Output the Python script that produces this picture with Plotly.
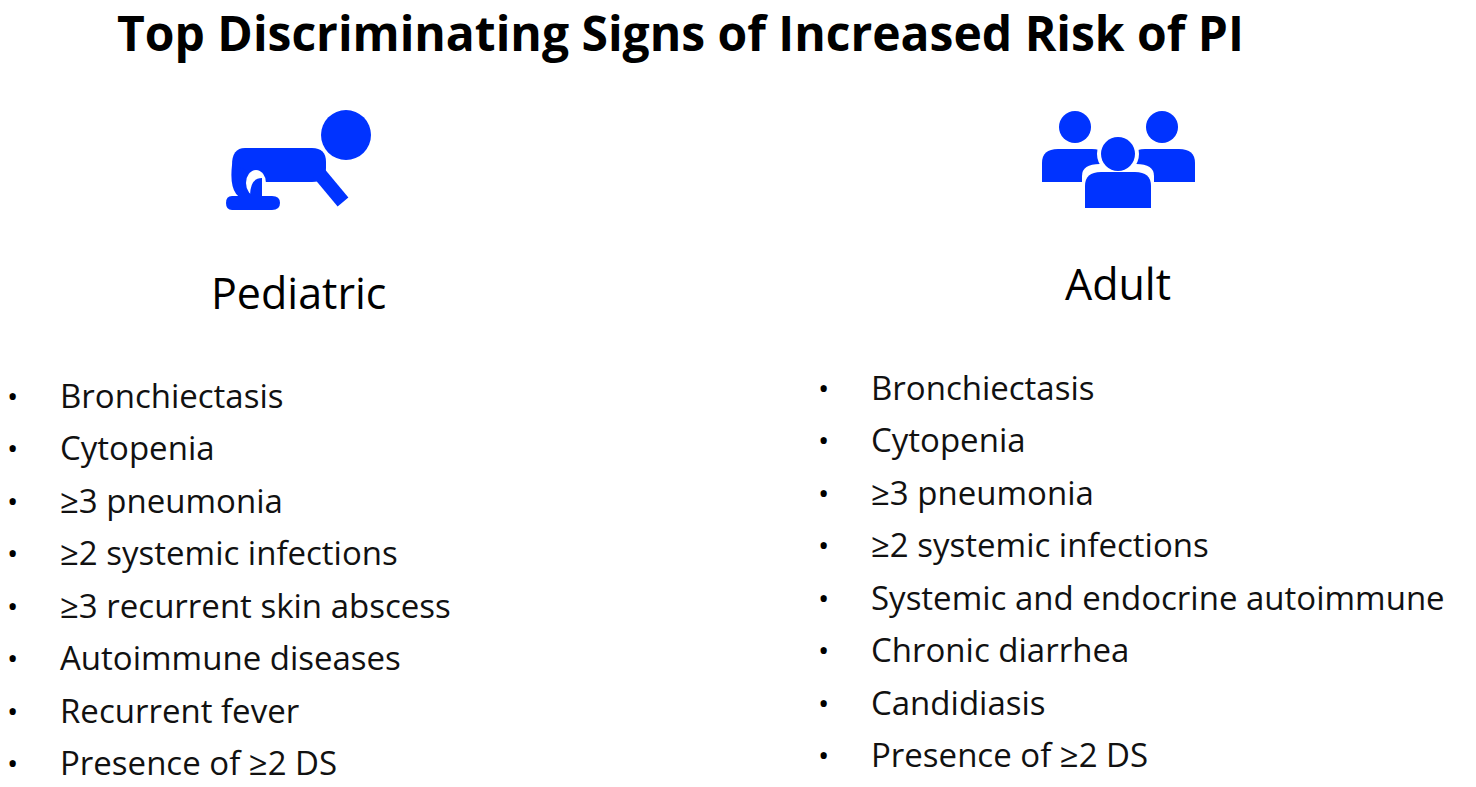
import plotly.graph_objects as go

title = 'Top Discriminating Signs of Increased Risk of PI'
groups = ['Pediatric', 'Adult']
pediatric_signs = [
    'Bronchiectasis', 'Cytopenia', '≥3 pneumonia', '≥2 systemic infections',
    '≥3 recurrent skin abscess', 'Autoimmune diseases', 'Recurrent fever',
    'Presence of ≥2 DS',
]
adult_signs = [
    'Bronchiectasis', 'Cytopenia', '≥3 pneumonia', '≥2 systemic infections',
    'Systemic and endocrine autoimmune', 'Chronic diarrhea', 'Candidiasis',
    'Presence of ≥2 DS',
]

BLUE = '#0033ff'
W, H = 1476, 787
FONT = 'Open Sans'

fig = go.Figure()
fig.add_trace(go.Scatter(x=[0, W], y=[0, H], mode='markers',
                         marker=dict(opacity=0), hoverinfo='skip', showlegend=False))

ann = [dict(x=680, y=32, text=f'<b>{title}</b>', showarrow=False,
            font=dict(size=48, color='black', family=FONT))]
ann.append(dict(x=298, y=292, text=groups[0], showarrow=False,
                font=dict(size=43, color='black', family=FONT)))
ann.append(dict(x=1118, y=283, text=groups[1], showarrow=False,
                font=dict(size=43, color='black', family=FONT)))

def bullets(items, xb, xt, y0, step=52.5):
    for i, s in enumerate(items):
        y = y0 + i * step
        ann.append(dict(x=xb, y=y, text='•', showarrow=False,
                        font=dict(size=30, color='black', family=FONT)))
        ann.append(dict(x=xt, y=y, text=s, showarrow=False, xanchor='left',
                        font=dict(size=33, color='#111', family=FONT)))

bullets(pediatric_signs, 12, 58, 395)
bullets(adult_signs, 823, 869, 387)

shapes = []
# baby icon
shapes.append(dict(type='circle', x0=321, y0=110, x1=371, y1=160, fillcolor=BLUE, line_width=0))
shapes.append(dict(type='path', path='M 245,148 L 312,148 Q 326,148 326,162 L 326,168 Q 326,182 312,182 L 270,182 L 245,182 Q 232,182 232,165 Q 232,148 245,148 Z',
                   fillcolor=BLUE, line_width=0))
shapes.append(dict(type='line', x0=318, y0=172, x1=343, y1=202, line=dict(color=BLUE, width=14)))
shapes.append(dict(type='path', path='M 232,165 Q 228,200 250,200 L 262,200 L 262,184 Q 246,186 246,170 Z',
                   fillcolor=BLUE, line_width=0))
shapes.append(dict(type='path', path='M 232,196 L 272,196 Q 280,196 280,203 Q 280,210 272,210 L 232,210 Q 226,210 226,203 Q 226,196 232,196 Z',
                   fillcolor=BLUE, line_width=0))
shapes.append(dict(type='circle', x0=246, y0=170, x1=266, y1=196, fillcolor='white', line_width=0))
shapes.append(dict(type='path', path='M 250,196 Q 250,178 262,178 L 262,196 Z', fillcolor=BLUE, line_width=0))

# people icon
def person(cx, head_y, r, top, bottom, half):
    shapes.append(dict(type='circle', x0=cx - r, y0=head_y - r, x1=cx + r, y1=head_y + r,
                       fillcolor=BLUE, line_width=0))
    shapes.append(dict(type='path',
                       path=f'M {cx-half},{bottom} L {cx-half},{top+14} Q {cx-half},{top} {cx-half+16},{top} '
                            f'L {cx+half-16},{top} Q {cx+half},{top} {cx+half},{top+14} L {cx+half},{bottom} Z',
                       fillcolor=BLUE, line_width=0))

person(1075, 127, 16, 149, 182, 33)
person(1162, 127, 16, 149, 182, 33)
shapes.append(dict(type='path', path='M 1082,214 L 1082,176 Q 1082,164 1100,164 L 1136,164 Q 1154,164 1154,176 L 1154,214 Z',
                   fillcolor='white', line_width=0))
shapes.append(dict(type='circle', x0=1097, y0=133, x1=1139, y1=175, fillcolor='white', line_width=0))
person(1118, 154, 17, 172, 208, 33)

# page has an 8px body margin, so shift the axis ranges to compensate
fig.update_layout(
    width=W, height=H, margin=dict(l=0, r=0, t=0, b=0),
    plot_bgcolor='white', paper_bgcolor='white',
    xaxis=dict(range=[8, W + 8], visible=False, fixedrange=True),
    yaxis=dict(range=[H + 8, 8], visible=False, fixedrange=True),
    annotations=ann, shapes=shapes, showlegend=False,
)

fig.write_html('out.html')
